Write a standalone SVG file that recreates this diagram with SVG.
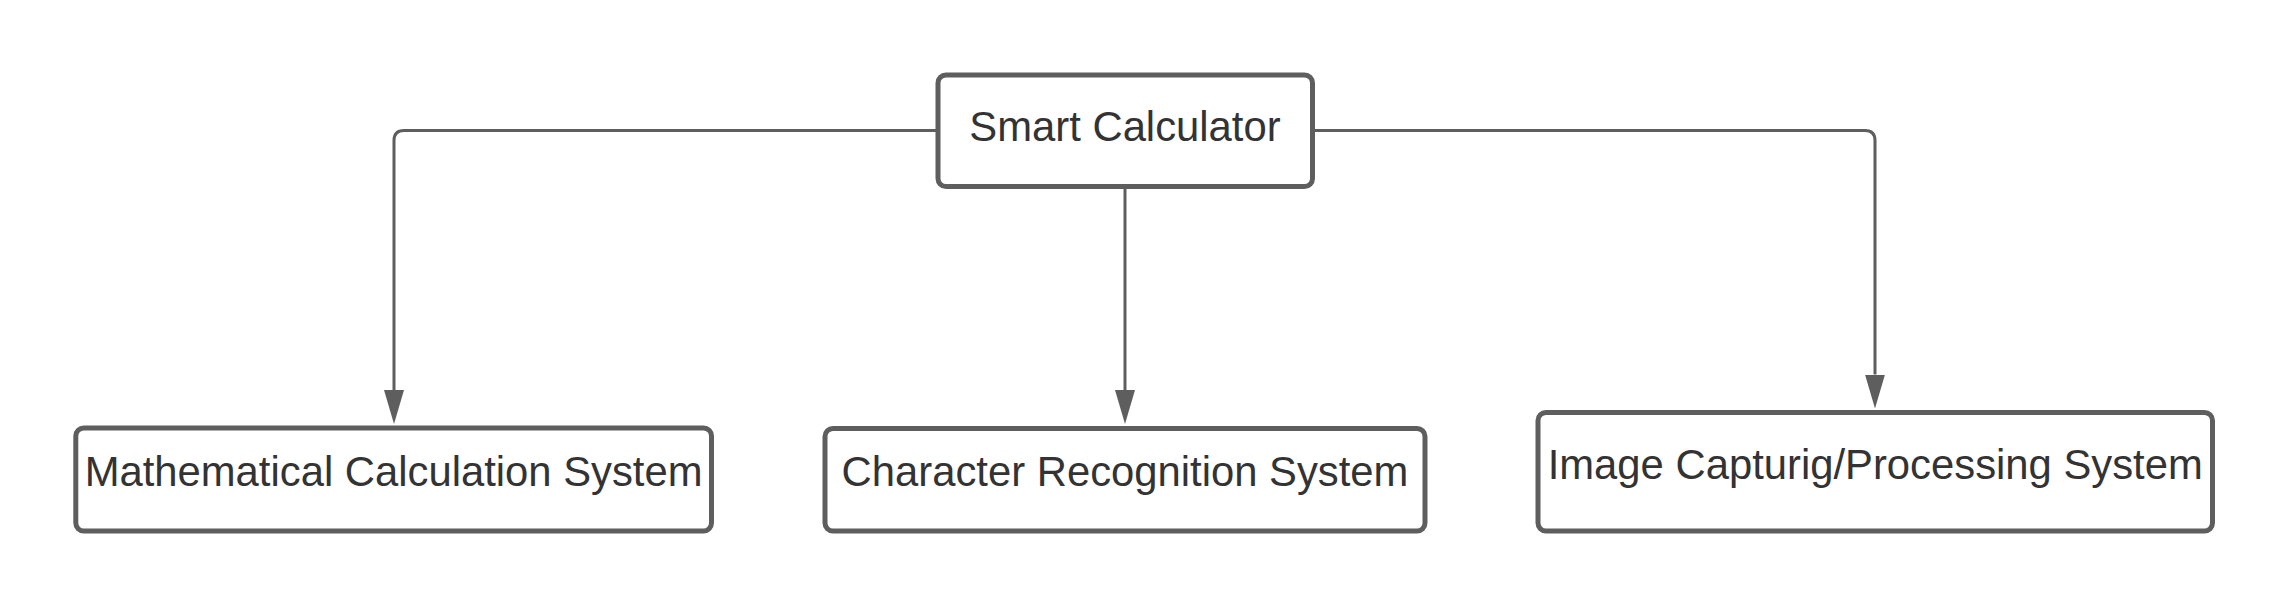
<svg xmlns="http://www.w3.org/2000/svg" width="2288" height="606" viewBox="0 0 2288 606">
  <style>
    .box { fill: #ffffff; stroke: #5e5e5e; stroke-width: 5; }
    .label { font-family: "Liberation Sans", Arial, sans-serif; font-size: 41.8px; fill: #333333; text-anchor: middle; }
    .conn { fill: none; stroke: #5e5e5e; stroke-width: 3; }
  </style>
  <defs>
    <marker id="arrow" viewBox="0 -10 34 20" refX="0" refY="0" markerWidth="34" markerHeight="20" markerUnits="userSpaceOnUse" orient="auto">
      <path d="M0,-10 L34,0 L0,10 Z" fill="#5e5e5e"/>
    </marker>
  </defs>
  <rect width="2288" height="606" fill="#ffffff"/>
  <g id="connectors">
    <path class="conn" d="M938,130.5 H404 Q394,130.5 394,140.5 V390" marker-end="url(#arrow)"/>
    <path class="conn" d="M1125,187 V390" marker-end="url(#arrow)"/>
    <path class="conn" d="M1312.5,130.5 H1865 Q1875,130.5 1875,140.5 V374.5" marker-end="url(#arrow)"/>
  </g>
  <g id="smart-calculator">
    <rect class="box" x="938" y="75" width="374.5" height="111.5" rx="8"/>
    <text class="label" x="1125" y="140.5">Smart Calculator</text>
  </g>
  <g id="mathematical-calculation-system">
    <rect class="box" x="75.8" y="428" width="635.7" height="103" rx="8"/>
    <text class="label" x="393.6" y="486">Mathematical Calculation System</text>
  </g>
  <g id="character-recognition-system">
    <rect class="box" x="825" y="428.5" width="600" height="102.5" rx="8"/>
    <text class="label" x="1125" y="486">Character Recognition System</text>
  </g>
  <g id="image-processing-system">
    <rect class="box" x="1538" y="412.5" width="674.5" height="118.5" rx="8"/>
    <text class="label" x="1875.25" y="479">Image Capturig/Processing System</text>
  </g>
</svg>
